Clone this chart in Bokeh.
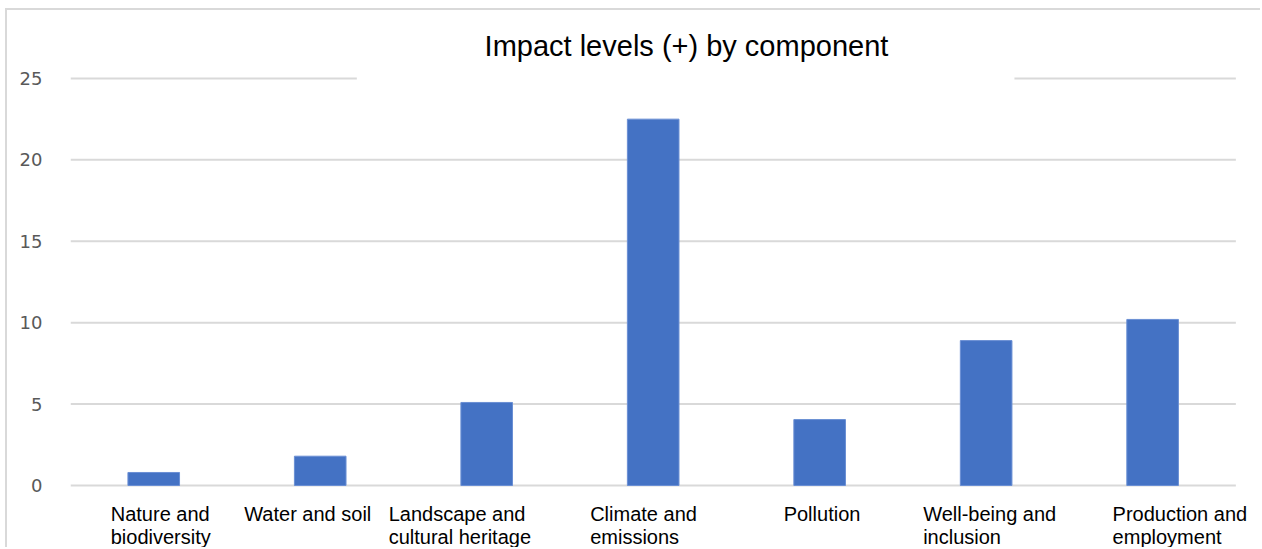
from bokeh.plotting import figure
from bokeh.models import Range1d, FixedTicker, Label, BoxAnnotation, ColumnDataSource
from bokeh.core.properties import value
from bokeh.embed import file_html
from bokeh.resources import INLINE

categories = ["Nature and biodiversity", "Water and soil", "Landscape and cultural heritage",
              "Climate and emissions", "Pollution", "Well-being and inclusion",
              "Production and employment"]
labels = ["Nature and\nbiodiversity", "Water and soil", "Landscape and\ncultural heritage",
          "Climate and\nemissions", "Pollution", "Well-being and\ninclusion",
          "Production and\nemployment"]
values = [0.8, 1.8, 5.1, 22.5, 4.05, 8.9, 10.2]
y_ticks = [0, 5, 10, 15, 20, 25]
title_text = "Impact levels (+) by component"

# horizontal placement of each wrapped category label (screen px from bar centre)
label_dx = [-43, -76, -98, -63, -36, -63, -40]

n = len(categories)
pos = list(range(n))
src = ColumnDataSource(dict(x=pos, cat=categories, val=values, lab=labels, dx=label_dx))
grid_src = ColumnDataSource(dict(y=y_ticks, x0=[-0.5] * len(y_ticks),
                                 x1=[n - 0.5] * len(y_ticks)))

p = figure(x_range=Range1d(-0.5, n - 0.5 + 0.16), y_range=Range1d(-3.93, 29.05),
           width=1255, height=539, output_backend="svg", toolbar_location=None,
           min_border_left=63, min_border_right=0, min_border_top=2, min_border_bottom=0)
p.styles = {"border-top": "2px solid #d9d9d9", "border-left": "2px solid #d9d9d9",
            "margin-left": "5px", "margin-top": "8px"}
p.outline_line_color = None
p.background_fill_color = "white"
p.border_fill_color = "white"

# horizontal gridlines at the y ticks, spanning the category area
p.segment(x0="x0", x1="x1", y0="y", y1="y", source=grid_src,
          line_color="#d9d9d9", line_width=2)

p.vbar(x="x", top="val", width=0.31, source=src, fill_color="#4472C4",
       line_color="#6a8fd4", line_width=1)

p.text(x="x", y=0, text="lab", x_offset="dx", y_offset=17, source=src,
       text_align="left", text_baseline="top", text_font=value("Liberation Sans"),
       text_font_size="20px", text_color="black", text_line_height=1.08)

p.xaxis.visible = False
p.xgrid.grid_line_color = None
p.ygrid.grid_line_color = None

p.yaxis.ticker = FixedTicker(ticks=y_ticks)
p.yaxis.axis_line_color = None
p.yaxis.major_tick_line_color = None
p.yaxis.minor_tick_line_color = None
p.yaxis.major_label_text_color = "#595959"
p.yaxis.major_label_text_font = "DejaVu Sans"
p.yaxis.major_label_text_font_size = "18px"
p.yaxis.major_label_standoff = 22

box = BoxAnnotation(left=1.22, right=5.17, bottom=24.6, fill_color="white", fill_alpha=1.0,
                    line_color=None)
p.add_layout(box)

lab = Label(x=3.20, y=27.0, text=title_text, text_align="center", text_baseline="middle",
            text_font="Liberation Sans", text_font_size="29px", text_color="black")
p.add_layout(lab)

open("out.html", "w").write(file_html(p, INLINE))
